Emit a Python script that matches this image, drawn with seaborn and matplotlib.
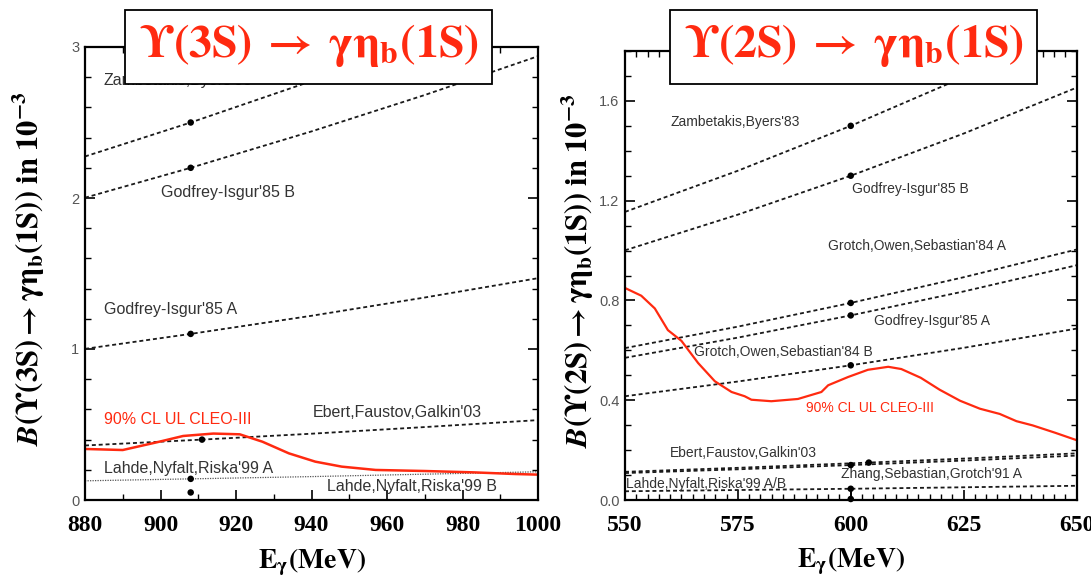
import matplotlib
matplotlib.use("Agg")
import matplotlib.pyplot as plt
import matplotlib.patches as mpatches
from matplotlib.ticker import MultipleLocator
import seaborn as sns

# ---------------- Left panel: Upsilon(3S) -> gamma eta_b(1S) ----------------
e3_grid = [880, 908, 940, 970, 1000]
e3_zambetakis = [2.275, 2.50, 2.774, 3.048, 3.340]
e3_godfrey_b = [2.002, 2.20, 2.441, 2.682, 2.939]
e3_godfrey_a = [1.001, 1.10, 1.220, 1.341, 1.469]
e3_ebert_grid = [880, 911, 940, 970, 1000]
e3_ebert = [0.361, 0.40, 0.439, 0.483, 0.529]
e3_lahde_a = [0.127, 0.14, 0.155, 0.171, 0.187]
e3_marker_x = [908, 908, 908, 911, 908, 908]
e3_marker_y = [2.50, 2.20, 1.10, 0.40, 0.14, 0.05]
e3_ul_x = [880, 890, 899, 906, 914, 921, 927, 934, 941, 948, 957, 970, 983, 994, 1000]
e3_ul_y = [0.338, 0.331, 0.382, 0.424, 0.440, 0.435, 0.386, 0.309, 0.254, 0.221,
           0.199, 0.192, 0.183, 0.172, 0.168]
e3_xticks = [880, 900, 920, 940, 960, 980, 1000]
e3_yticks = [0, 1, 2, 3]
e3_ytick_labels = ["0", "1", "2", "3"]
e3_labels = ["Zambetakis,Byers'83", "Godfrey-Isgur'85 B", "Godfrey-Isgur'85 A",
             "Ebert,Faustov,Galkin'03", "Lahde,Nyfalt,Riska'99 A",
             "Lahde,Nyfalt,Riska'99 B"]
e3_label_pos = [(885.0, 2.78), (900.2, 2.035), (885.0, 1.263), (940.4, 0.578),
                (885.0, 0.21), (944.1, 0.088)]
e3_ul_label_pos = (885.0, 0.534)

# ---------------- Right panel: Upsilon(2S) -> gamma eta_b(1S) ----------------
e2_grid = [550, 575, 600, 625, 650]
e2_zambetakis = [1.155, 1.320, 1.50, 1.695, 1.907]
e2_godfrey_b = [1.001, 1.144, 1.30, 1.469, 1.653]
e2_grotch_a = [0.609, 0.695, 0.79, 0.893, 1.004]
e2_godfrey_a = [0.570, 0.651, 0.74, 0.836, 0.941]
e2_grotch_b = [0.416, 0.475, 0.54, 0.610, 0.687]
e2_ebert_grid = [550, 575, 604, 625, 650]
e2_ebert = [0.113, 0.129, 0.15, 0.166, 0.187]
e2_zhang = [0.108, 0.123, 0.14, 0.158, 0.178]
e2_lahde = [0.035, 0.040, 0.045, 0.051, 0.057]
e2_lahde_bar_x = [600, 600]
e2_lahde_bar_y = [0.004, 0.045]
e2_marker_x = [600, 600, 600, 600, 600, 604, 600, 600, 600]
e2_marker_y = [1.50, 1.30, 0.79, 0.74, 0.54, 0.15, 0.14, 0.045, 0.004]
e2_ul_x = [550, 553.6, 556.6, 559.5, 562.5, 566.2, 569.9, 573.6, 576.5, 578.0, 582.4,
           588.3, 593.5, 595.0, 599.4, 603.8, 608.3, 611.2, 615.5, 619.7, 624.2,
           628.6, 633.0, 636.7, 640.3, 645.2, 650]
e2_ul_y = [0.850, 0.819, 0.768, 0.681, 0.638, 0.549, 0.476, 0.433, 0.416, 0.402, 0.396,
           0.405, 0.433, 0.460, 0.493, 0.522, 0.534, 0.525, 0.490, 0.442, 0.398,
           0.366, 0.345, 0.316, 0.299, 0.270, 0.240]
e2_xticks = [550, 575, 600, 625, 650]
e2_yticks = [0.0, 0.4, 0.8, 1.2, 1.6]
e2_ytick_labels = ["0.0", "0.4", "0.8", "1.2", "1.6"]
e2_labels = ["Zambetakis,Byers'83", "Godfrey-Isgur'85 B", "Grotch,Owen,Sebastian'84 A",
             "Godfrey-Isgur'85 A", "Grotch,Owen,Sebastian'84 B", "Ebert,Faustov,Galkin'03",
             "Zhang,Sebastian,Grotch'91 A", "Lahde,Nyfalt,Riska'99 A/B"]
e2_label_pos = [(560.0, 1.516), (600.2, 1.246), (594.9, 1.020), (605.1, 0.719),
                (565.3, 0.593), (560.0, 0.190), (597.9, 0.103), (550.2, 0.066)]
e2_ul_label_pos = (590.0, 0.369)

# ---------------- Styling ----------------
sns.set_style("ticks")
plt.rcParams["font.family"] = ["Liberation Sans", "DejaVu Sans"]
plt.rcParams["mathtext.fontset"] = "stix"

RED = "#ff2a10"
TXT = "#333333"
DASH = (0, (2.2, 1.6))

fig = plt.figure(figsize=(10.91, 5.82), dpi=100)
fig.patch.set_facecolor("white")
W, H = 1091.0, 582.0
axL = fig.add_axes([85 / W, 82 / H, 453 / W, 453 / H])
axR = fig.add_axes([625 / W, 82 / H, 451.5 / W, 449 / H])


def dline(ax, x, y, ls=DASH, lw=1.3, color="#1a1a1a"):
    sns.lineplot(x=x, y=y, ax=ax, color=color, linewidth=lw, linestyle=ls,
                 estimator=None, sort=False, legend=False)


# Left panel drawing
for ys in [e3_zambetakis, e3_godfrey_b, e3_godfrey_a]:
    dline(axL, e3_grid, ys)
dline(axL, e3_ebert_grid, e3_ebert)
dline(axL, e3_grid, e3_lahde_a, ls=(0, (1, 1)), lw=0.9, color="#555555")
sns.lineplot(x=e3_ul_x, y=e3_ul_y, ax=axL, color=RED, linewidth=1.8,
             estimator=None, sort=False, legend=False)
sns.scatterplot(x=e3_marker_x, y=e3_marker_y, ax=axL, color="black", s=22,
                edgecolor="none", zorder=5, legend=False)
for name, (x, y) in zip(e3_labels, e3_label_pos):
    axL.text(x, y, name, fontsize=11.5, color=TXT, ha="left", va="center")
axL.text(*e3_ul_label_pos, "90% CL UL CLEO-III", fontsize=11.5, color=RED,
         ha="left", va="center")

# Right panel drawing
for ys in [e2_zambetakis, e2_godfrey_b, e2_grotch_a, e2_godfrey_a, e2_grotch_b,
           e2_zhang, e2_lahde]:
    dline(axR, e2_grid, ys)
dline(axR, e2_ebert_grid, e2_ebert)
sns.lineplot(x=e2_lahde_bar_x, y=e2_lahde_bar_y, ax=axR, color="black", linewidth=1.3,
             estimator=None, sort=False, legend=False)
sns.lineplot(x=e2_ul_x, y=e2_ul_y, ax=axR, color=RED, linewidth=1.6,
             estimator=None, sort=False, legend=False)
sns.scatterplot(x=e2_marker_x, y=e2_marker_y, ax=axR, color="black", s=22,
                edgecolor="none", zorder=5, legend=False, clip_on=False)
for name, (x, y) in zip(e2_labels, e2_label_pos):
    axR.text(x, y, name, fontsize=10, color=TXT, ha="left", va="center")
axR.text(*e2_ul_label_pos, "90% CL UL CLEO-III", fontsize=10, color=RED,
         ha="left", va="center")


def style(ax, xlim, xticks, xminor, ylim, yticks, ylabels, yminor, ylab_x, decay):
    ax.set_facecolor("white")
    ax.set_xlim(*xlim)
    ax.set_ylim(*ylim)
    ax.set_xticks(xticks)
    ax.set_xticklabels([str(v) for v in xticks], fontfamily="Liberation Serif",
                       fontweight="bold", fontsize=17, color="black")
    ax.xaxis.set_minor_locator(MultipleLocator(xminor))
    ax.set_yticks(yticks)
    ax.set_yticklabels(ylabels, fontsize=10.5, color="#555555")
    ax.yaxis.set_minor_locator(MultipleLocator(yminor))
    ax.tick_params(which="both", direction="in", top=True, right=True, color="black")
    ax.tick_params(which="major", length=7, width=1.2)
    ax.tick_params(which="minor", length=4, width=1.0)
    ax.tick_params(axis="x", pad=11)
    ax.tick_params(axis="y", pad=4)
    for sp in ax.spines.values():
        sp.set_linewidth(1.6)
        sp.set_color("black")
    ax.set_xlabel(r"$\mathbf{E_{\gamma}(MeV)}$", fontsize=20, color="black")
    ax.xaxis.label.set_verticalalignment("center")
    ax.xaxis.set_label_coords(0.5, -0.137)
    ax.set_ylabel(r"$\mathbfit{B}\mathbf{(ϒ(" + decay +
                  r")\rightarrow\gamma\eta_b(1S))\ in\ 10^{-3}}$",
                  fontsize=22, color="black")
    ax.yaxis.set_label_coords(ylab_x, 0.51)


style(axL, (880, 1000), e3_xticks, 10, (0, 3), e3_yticks, e3_ytick_labels, 0.2,
      -0.084, "3S")
style(axR, (550, 650), e2_xticks, 2.5, (0, 1.8), e2_yticks, e2_ytick_labels, 0.1,
      -0.064, "2S")

# Title boxes
for x0, decay in [(125 / W, "3S"), (670 / W, "2S")]:
    w, h, y0 = 367 / W, 74 / H, 498 / H
    rect = mpatches.Rectangle((x0, y0), w, h, transform=fig.transFigure,
                              facecolor="white", edgecolor="black", linewidth=1.3,
                              zorder=10)
    fig.add_artist(rect)
    fig.text(x0 + w / 2, y0 + h / 2 + 0.002,
             r"$\mathbf{ϒ(" + decay + r")\;\rightarrow\;\gamma\eta_b(1S)}$",
             fontsize=33, color=RED, ha="center", va="center", zorder=11)

fig.savefig("out.png", dpi=100, facecolor="white")
